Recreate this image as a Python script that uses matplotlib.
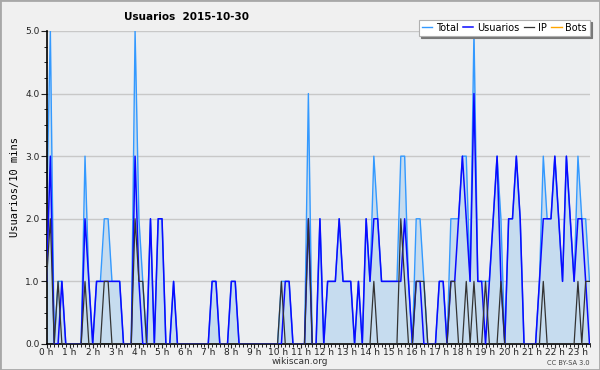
import numpy as np
import matplotlib
matplotlib.use("Agg")
import matplotlib.pyplot as plt
from matplotlib.patches import Rectangle

# valores cada 10 minutos (una fila = una hora)
total = [2, 5, 0, 1, 1, 0,  0, 0, 0, 0, 3, 1,  0, 1, 1, 2, 2, 1,  1, 1, 0, 0, 0, 5,
         2, 1, 0, 2, 0, 2,  2, 0, 0, 1, 0, 0,  0, 0, 0, 0, 0, 0,  0, 1, 1, 0, 0, 0,
         1, 1, 0, 0, 0, 0,  0, 0, 0, 0, 0, 0,  0, 1, 1, 1, 0, 0,  0, 0, 4, 0, 0, 2,
         0, 1, 1, 1, 2, 1,  1, 1, 0, 1, 0, 2,  1, 3, 2, 1, 1, 1,  1, 1, 3, 3, 1, 0,
         2, 2, 1, 0, 0, 0,  1, 1, 0, 2, 2, 2,  3, 3, 1, 5, 1, 1,  1, 1, 2, 3, 2, 0,
         2, 2, 3, 2, 0, 0,  0, 0, 1, 3, 2, 2,  3, 2, 1, 3, 2, 1,  3, 2, 2, 1]
usuarios = [1, 3, 0, 0, 1, 0,  0, 0, 0, 0, 2, 1,  0, 1, 1, 1, 1, 1,  1, 1, 0, 0, 0, 3,
            1, 0, 0, 2, 0, 2,  2, 0, 0, 1, 0, 0,  0, 0, 0, 0, 0, 0,  0, 1, 1, 0, 0, 0,
            1, 1, 0, 0, 0, 0,  0, 0, 0, 0, 0, 0,  0, 0, 1, 1, 0, 0,  0, 0, 2, 0, 0, 2,
            0, 1, 1, 1, 2, 1,  1, 1, 0, 1, 0, 2,  1, 2, 2, 1, 1, 1,  1, 1, 1, 2, 1, 0,
            1, 1, 0, 0, 0, 0,  1, 1, 0, 1, 1, 2,  3, 2, 1, 4, 1, 1,  0, 1, 2, 3, 1, 0,
            2, 2, 3, 2, 0, 0,  0, 0, 1, 2, 2, 2,  3, 2, 1, 3, 2, 1,  2, 2, 1, 0]
ip = [1, 2, 0, 1, 0, 0,  0, 0, 0, 0, 1, 0,  0, 0, 0, 1, 1, 0,  0, 0, 0, 0, 0, 2,
      1, 1, 0, 0, 0, 0,  0, 0, 0, 0, 0, 0,  0, 0, 0, 0, 0, 0,  0, 0, 0, 0, 0, 0,
      0, 0, 0, 0, 0, 0,  0, 0, 0, 0, 0, 0,  0, 1, 0, 0, 0, 0,  0, 0, 2, 0, 0, 0,
      0, 0, 0, 0, 0, 0,  0, 0, 0, 0, 0, 0,  0, 1, 0, 0, 0, 0,  0, 0, 2, 1, 0, 0,
      1, 1, 1, 0, 0, 0,  0, 0, 0, 1, 1, 0,  0, 1, 0, 1, 0, 0,  1, 0, 0, 0, 1, 0,
      0, 0, 0, 0, 0, 0,  0, 0, 0, 1, 0, 0,  0, 0, 0, 0, 0, 0,  1, 0, 1, 1]
bots = [0] * len(total)
hour_labels = [f"{h} h" for h in range(24)]

x = np.arange(len(total))

fig = plt.figure(figsize=(6, 3.7), dpi=100, facecolor="#f0f0f0")
fig.patches.append(Rectangle((0, 0), 1, 1, transform=fig.transFigure, fill=False,
                             edgecolor="#a8a8a8", linewidth=2))
ax = fig.add_axes([0.0775, 0.0703, 0.905, 0.846], facecolor="#eceef0")

ax.fill_between(x, total, 0, color="#c6dcef", linewidth=0, zorder=1)
ax.plot(x, bots, color="#ffa500", linewidth=1, zorder=1.5)
ax.plot(x, total, color="#3399ff", linewidth=1, label="Total", zorder=2)
ax.plot(x, usuarios, color="#0a0aff", linewidth=1.1, label="Usuarios", zorder=3)
ax.plot(x, ip, color="#333333", linewidth=0.9, label="IP", zorder=4)
ax.plot([], [], color="#ffa500", linewidth=1, label="Bots")

ax.set_xlim(0, len(total) - 1)
ax.set_ylim(0, 5)
ax.set_yticks(np.arange(0, 5.1, 1))
ax.set_yticklabels([f"{v:.1f}" for v in range(6)])
ax.set_yticks(np.arange(0, 5.01, 0.25), minor=True)
ax.set_xticks(np.arange(0, 24) * 6)
ax.set_xticklabels(hour_labels)
ax.set_xticks(x, minor=True)
ax.grid(axis="y", color="#c8c8c8", linewidth=1)
ax.set_axisbelow(True)

for s in ["top", "right"]:
    ax.spines[s].set_visible(False)
ax.spines["left"].set_linewidth(1.2)
ax.spines["bottom"].set_linewidth(1.2)
ax.tick_params(axis="both", labelsize=6.5, colors="#222222", pad=1)
ax.tick_params(axis="x", which="major", length=3, pad=0)
ax.tick_params(axis="x", which="minor", length=2.5)
ax.tick_params(axis="y", which="major", length=4)
ax.tick_params(axis="y", which="minor", length=2.5)

ax.set_ylabel("Usuarios/10 mins", fontsize=7.5, family="DejaVu Sans Mono", labelpad=4)

fig.text(0.5, 0.024, "wikiscan.org", fontsize=6.5, color="#333333", ha="center", va="center")
fig.text(0.983, 0.018, "CC BY-SA 3.0", fontsize=4.8, color="#444444", ha="right", va="center")
fig.text(0.31, 0.955, "Usuarios  2015-10-30", fontsize=7.5, fontweight="bold",
         ha="center", va="center")

leg = ax.legend(loc="upper right", bbox_to_anchor=(1.0, 1.036), ncol=4, fontsize=7,
                frameon=True, fancybox=False, shadow={"color": "#777777", "alpha": 1},
                handlelength=1.1, handletextpad=0.35, columnspacing=0.45,
                borderpad=0.3, borderaxespad=0)
leg.get_frame().set_edgecolor("#b0b0b0")
leg.get_frame().set_linewidth(0.8)

fig.savefig("out.png", dpi=100, facecolor=fig.get_facecolor())
